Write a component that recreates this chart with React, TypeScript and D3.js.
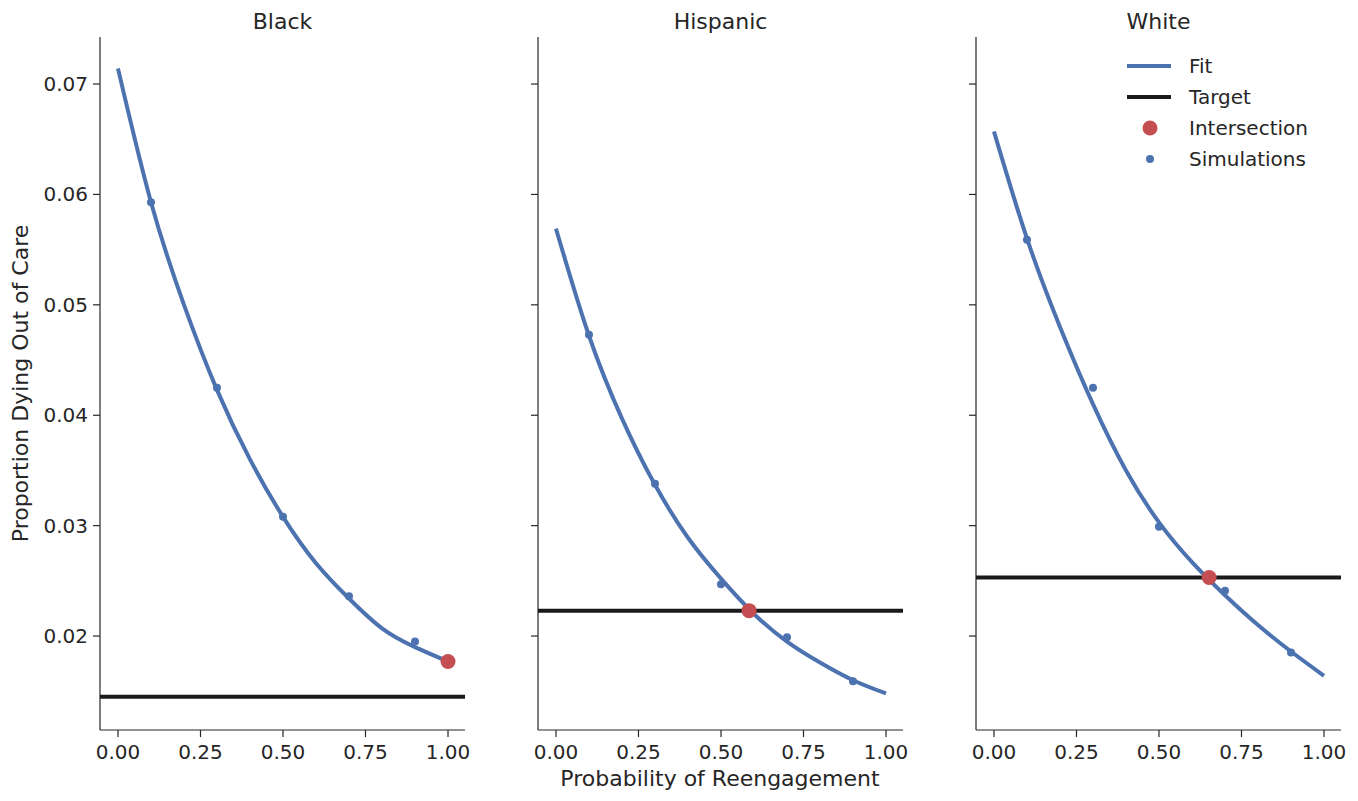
import React from "react";
import * as d3 from "d3";

const panels = ["Black", "Hispanic", "White"];
const fitX = [0, 0.1, 0.2, 0.3, 0.4, 0.5, 0.6, 0.7, 0.8, 0.9, 1.0];
const fitBlack = [0.0714, 0.0593, 0.05, 0.0423, 0.036, 0.0308, 0.0266, 0.0234, 0.0207, 0.019, 0.0177];
const fitHispanic = [0.0569, 0.0472, 0.0397, 0.0337, 0.0289, 0.0252, 0.022, 0.0195, 0.0176, 0.016, 0.0148];
const fitWhite = [0.0657, 0.056, 0.048, 0.041, 0.035, 0.0303, 0.0267, 0.0237, 0.021, 0.0186, 0.0164];
const simX = [0.1, 0.3, 0.5, 0.7, 0.9];
const simBlack = [0.0593, 0.0425, 0.0308, 0.0236, 0.0195];
const simHispanic = [0.0473, 0.0338, 0.0247, 0.0199, 0.0159];
const simWhite = [0.0559, 0.0425, 0.0299, 0.0241, 0.0185];
const targets = [0.0145, 0.0223, 0.0253];
const interX = [1.0, 0.585, 0.652];
const interY = [0.0177, 0.0223, 0.0253];
const xTicks = [0, 0.25, 0.5, 0.75, 1.0];
const yTicks = [0.02, 0.03, 0.04, 0.05, 0.06, 0.07];

const fits = [fitBlack, fitHispanic, fitWhite];
const sims = [simBlack, simHispanic, simWhite];
const lefts = [100, 538, 976];
const W = 365, TOP = 37, BOTTOM = 730;
const BLUE = "#4c72b0", RED = "#c44e52", TXT = "#262626";
const font = "DejaVu Sans";

export default function App() {
  const y = d3.scaleLinear().domain([0.01149, 0.07426]).range([BOTTOM, TOP]);
  return (
    <svg width={1358} height={801} style={{ position: "absolute", left: 0, top: 0 }} fontFamily={font}>
      <rect width={1358} height={801} fill="white" />
      {panels.map((p, i) => {
        const x = d3.scaleLinear().domain([-0.0545, 1.0515]).range([lefts[i], lefts[i] + W]);
        const line = d3.line<number>().x((_, k) => x(fitX[k])).y(v => y(v)).curve(d3.curveNatural);
        return (
          <g key={p}>
            <text x={lefts[i] + W / 2} y={29} textAnchor="middle" fontSize={22} fill={TXT}>{p}</text>
            <line x1={lefts[i]} x2={lefts[i]} y1={TOP} y2={BOTTOM} stroke={TXT} strokeWidth={1.2} />
            <line x1={lefts[i]} x2={lefts[i] + W} y1={BOTTOM} y2={BOTTOM} stroke={TXT} strokeWidth={1.2} />
            {yTicks.map(t => (
              <g key={t}>
                <line x1={lefts[i] - 7} x2={lefts[i]} y1={y(t)} y2={y(t)} stroke={TXT} strokeWidth={1.2} />
                {i === 0 && <text x={lefts[i] - 12} y={y(t) + 7} textAnchor="end" fontSize={20} fill={TXT}>{t.toFixed(2)}</text>}
              </g>
            ))}
            {xTicks.map(t => (
              <g key={t}>
                <line x1={x(t)} x2={x(t)} y1={BOTTOM} y2={BOTTOM + 7} stroke={TXT} strokeWidth={1.2} />
                <text x={x(t)} y={BOTTOM + 29} textAnchor="middle" fontSize={20} fill={TXT}>{t.toFixed(2)}</text>
              </g>
            ))}
            <line x1={lefts[i]} x2={lefts[i] + W} y1={y(targets[i])} y2={y(targets[i])} stroke="#1a1a1a" strokeWidth={4} />
            <path d={line(fits[i]) || ""} fill="none" stroke={BLUE} strokeWidth={4} />
            {sims[i].map((v, k) => <circle key={k} cx={x(simX[k])} cy={y(v)} r={4} fill={BLUE} />)}
            <circle cx={x(interX[i])} cy={y(interY[i])} r={7.5} fill={RED} />
          </g>
        );
      })}
      <text transform={`translate(28,${(TOP + BOTTOM) / 2}) rotate(-90)`} textAnchor="middle" fontSize={22} fill={TXT}>Proportion Dying Out of Care</text>
      <text x={720} y={786} textAnchor="middle" fontSize={22} fill={TXT}>Probability of Reengagement</text>
      <g fontSize={20} fill={TXT}>
        <line x1={1127} x2={1171} y1={66} y2={66} stroke={BLUE} strokeWidth={4} />
        <text x={1189} y={73}>Fit</text>
        <line x1={1127} x2={1171} y1={97} y2={97} stroke="#1a1a1a" strokeWidth={4} />
        <text x={1189} y={104}>Target</text>
        <circle cx={1150} cy={128} r={7.5} fill={RED} />
        <text x={1189} y={135}>Intersection</text>
        <circle cx={1150} cy={159} r={4} fill={BLUE} />
        <text x={1189} y={166}>Simulations</text>
      </g>
    </svg>
  );
}
